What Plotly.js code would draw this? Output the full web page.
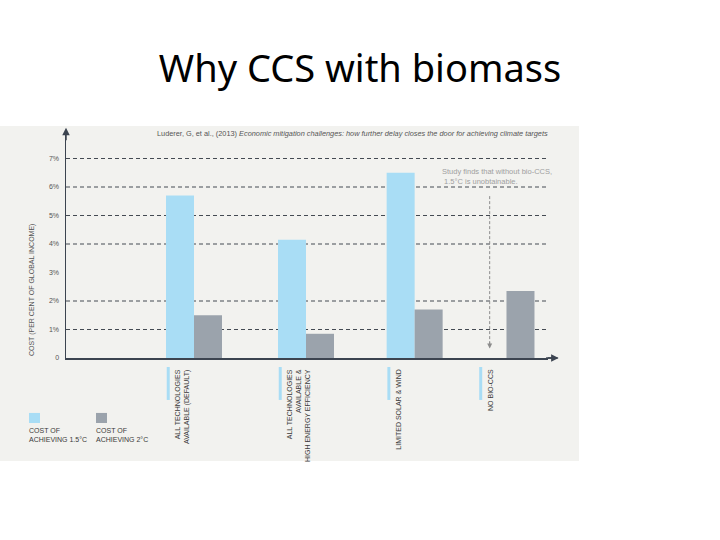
<!DOCTYPE html>
<html>
<head>
<meta charset="utf-8">
<script src="https://cdn.plot.ly/plotly-3.0.1.min.js"></script>
<style>
  html, body { margin: 0; padding: 0; background: #ffffff; }
  #chart { width: 720px; height: 540px; }
</style>
</head>
<body>
<div id="chart"></div>
<script>
// Scenario categories (drawn as rotated labels under the axis)
const categories = [
  'ALL TECHNOLOGIES<br>AVAILABLE (DEFAULT)',
  'ALL TECHNOLOGIES<br>AVAILABLE &<br>HIGH ENERGY EFFICIENCY',
  'LIMITED SOLAR & WIND',
  'NO BIO-CCS'
];
// Cost as per cent of global income
const cost15 = [5.7, 4.15, 6.5, null];   // 1.5°C target (unobtainable without bio-CCS)
const cost2  = [1.5, 0.85, 1.7, 2.35];   // 2°C target
const seriesNames = ['COST OF<br>ACHIEVING 1.5°C', 'COST OF<br>ACHIEVING 2°C'];
const yTickVals = [0, 1, 2, 3, 4, 5, 6, 7];
const yTickText = ['0', '1%', '2%', '3%', '4%', '5%', '6%', '7%'];
const gridLevels = [1, 2, 4, 5, 6, 7];

// Layout positions of the scenario groups along the x axis
const groupPos = [1, 2, 2.97, 3.79];
const barW = 0.25;

const BLUE = '#a9ddf5';
const GREY = '#9ba3ac';
const AXIS = '#3c4450';
const PANEL = '#f2f2ef';
const LABEL_FONT = 'Liberation Sans, Arial, sans-serif';

const traces = [
  {
    type: 'bar', name: seriesNames[0], x: groupPos, y: cost15,
    width: barW, offset: -barW, marker: { color: BLUE, line: { width: 0 } },
    hoverinfo: 'skip'
  },
  {
    type: 'bar', name: seriesNames[1], x: groupPos, y: cost2,
    width: barW, offset: 0, marker: { color: GREY, line: { width: 0 } },
    hoverinfo: 'skip'
  }
];

const shapes = [];
// light panel behind the whole figure
shapes.push({
  type: 'rect', xref: 'paper', yref: 'paper', layer: 'below',
  x0: -0.1369, x1: 1.0643, y0: -0.4518, y1: 1.0175,
  fillcolor: PANEL, line: { width: 0 }
});
// dashed reference lines
gridLevels.forEach(v => {
  shapes.push({
    type: 'line', xref: 'paper', yref: 'y', layer: 'below',
    x0: 0, x1: 1, y0: v, y1: v,
    line: { color: '#444a52', width: 1, dash: '4px,3px' }
  });
});
// small blue markers beside each scenario label
groupPos.forEach(p => {
  shapes.push({
    type: 'line', xref: 'x', yref: 'paper',
    x0: p - barW + 0.02, x1: p - barW + 0.02, y0: -0.0395, y1: -0.184,
    line: { color: BLUE, width: 3 }
  });
});
// extension of the x axis toward its arrow
shapes.push({
  type: 'line', xref: 'paper', yref: 'paper',
  x0: 1, x1: 1.02, y0: 0, y1: 0, line: { color: AXIS, width: 1.5 }
});
// dotted drop line where the 1.5°C bar is missing
const dropX = groupPos[3] - 0.15;
shapes.push({
  type: 'line', xref: 'x', yref: 'y',
  x0: dropX, x1: dropX, y0: 5.68, y1: 0.45,
  line: { color: '#8c8c8c', width: 1, dash: '3px,2px' }
});
// legend swatches
const swatchX = [-0.0768, 0.0622];
[BLUE, GREY].forEach((c, i) => {
  shapes.push({
    type: 'rect', xref: 'paper', yref: 'paper',
    x0: swatchX[i], x1: swatchX[i] + 0.0229, y0: -0.285, y1: -0.241,
    fillcolor: c, line: { width: 0 }
  });
});

const annotations = [];
// scenario labels
categories.forEach((c, i) => {
  annotations.push({
    xref: 'x', yref: 'paper', x: groupPos[i] - barW, y: -0.0395,
    xanchor: 'left', yanchor: 'top', xshift: 6,
    text: c, showarrow: false, textangle: -90, align: 'right',
    font: { family: LABEL_FONT, size: 7, color: '#3a3a3a' }
  });
});
// legend texts
seriesNames.forEach((n, i) => {
  annotations.push({
    xref: 'paper', yref: 'paper', x: swatchX[i], y: -0.292,
    xanchor: 'left', yanchor: 'top', xshift: -2, text: n, showarrow: false,
    align: 'left', font: { family: LABEL_FONT, size: 7, color: '#3a3a3a' }
  });
});
// y axis title
annotations.push({
  xref: 'paper', yref: 'paper', x: -0.0705, y: 0.298,
  xanchor: 'center', yanchor: 'middle', textangle: -90, showarrow: false,
  text: 'COST (PER CENT OF GLOBAL INCOME)',
  font: { family: LABEL_FONT, size: 7, color: '#555555' }
});
// source line
annotations.push({
  xref: 'paper', yref: 'paper', x: 0.1846, y: 0.9868,
  xanchor: 'left', yanchor: 'middle', showarrow: false,
  text: 'Luderer, G, et al., (2013) <i>Economic mitigation challenges: how further delay closes the door for achieving climate targets</i>',
  font: { family: LABEL_FONT, size: 7.35, color: '#555555' }
});
// note about bio-CCS
annotations.push({
  xref: 'paper', yref: 'paper', x: 0.776, y: 0.8465,
  xanchor: 'left', yanchor: 'top', showarrow: false, align: 'left',
  text: 'Study finds that without bio-CCS,<br> 1.5°C is unobtainable.',
  font: { family: LABEL_FONT, size: 7.5, color: '#a0a0a0' }
});
// arrow heads: y axis, x axis, drop line
annotations.push({
  xref: 'paper', yref: 'paper', x: 0, y: 1.01, ax: 0, ay: 14,
  showarrow: true, arrowhead: 2, arrowsize: 1, arrowwidth: 1.5,
  arrowcolor: AXIS, text: ''
});
annotations.push({
  xref: 'paper', yref: 'paper', x: 1.022, y: 0, ax: -14, ay: 0,
  showarrow: true, arrowhead: 2, arrowsize: 1, arrowwidth: 1.5,
  arrowcolor: AXIS, text: ''
});
annotations.push({
  xref: 'x', yref: 'y', x: dropX, y: 0.33, ax: 0, ay: -8,
  showarrow: true, arrowhead: 2, arrowsize: 1, arrowwidth: 1,
  arrowcolor: '#8c8c8c', text: ''
});

const layout = {
  width: 720, height: 540,
  margin: { l: 66, r: 172, t: 130, b: 182, pad: 0 },
  paper_bgcolor: '#ffffff',
  plot_bgcolor: 'rgba(0,0,0,0)',
  showlegend: false,
  barmode: 'overlay',
  title: {
    text: 'Why CCS with biomass',
    x: 0.5, xref: 'container', xanchor: 'center',
    y: 0.872, yref: 'container', yanchor: 'middle',
    font: { family: 'Noto Sans, sans-serif', size: 38, color: '#000000' }
  },
  xaxis: {
    range: [-0.1429, 4.1607],
    showticklabels: false, showgrid: false, zeroline: false,
    showline: true, linecolor: AXIS, linewidth: 1.5, ticks: ''
  },
  yaxis: {
    range: [0, 8],
    tickvals: yTickVals, ticktext: yTickText,
    ticks: 'outside', ticklen: 4, tickcolor: 'rgba(0,0,0,0)',
    showgrid: false, zeroline: false,
    showline: true, linecolor: AXIS, linewidth: 1.5,
    tickfont: { family: LABEL_FONT, size: 7, color: '#555555' }
  },
  shapes: shapes,
  annotations: annotations
};

Plotly.newPlot('chart', traces, layout, { staticPlot: true, displayModeBar: false });
</script>
</body>
</html>
